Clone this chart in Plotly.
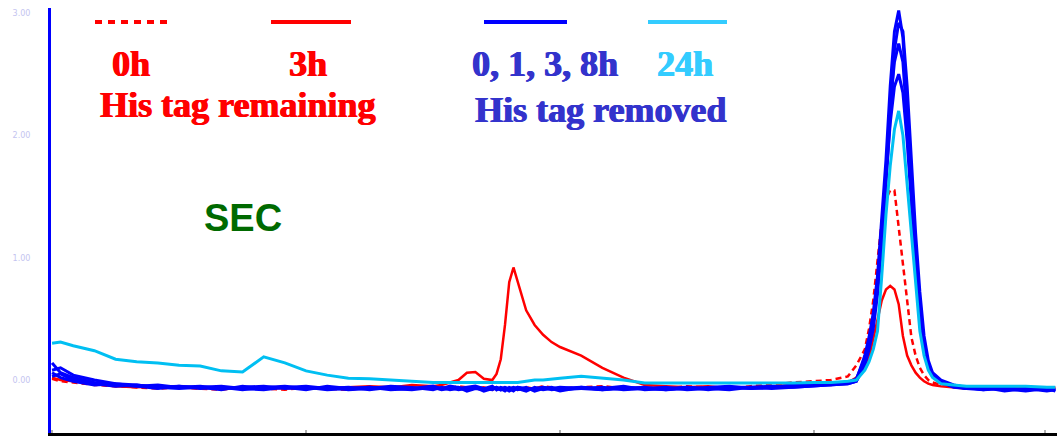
import plotly.graph_objects as go

# Elution position (mL) shared by every trace
elution_ml = [
    0, 0.2, 0.5, 1, 1.5, 2, 2.5, 3, 3.5, 4,
    4.5, 5, 5.5, 6, 6.5, 7, 7.5, 8, 8.5, 9,
    9.2, 9.4, 9.6, 9.8, 10.0, 10.2, 10.4, 10.5, 10.6, 10.7,
    10.8, 10.9, 11.0, 11.2, 11.4, 11.6, 11.8, 12.0, 12.5, 13,
    13.5, 14, 14.5, 15, 15.5, 16, 16.5, 17, 17.5, 18,
    18.4, 18.8, 19.0, 19.2, 19.3, 19.4, 19.5, 19.6, 19.7, 19.8,
    19.9, 20.0, 20.1, 20.2, 20.3, 20.4, 20.5, 20.6, 20.7, 20.8,
    21.0, 21.3, 21.6, 22.0, 22.5, 23.0, 23.5, 23.7,
]

# His tag remaining
tag_0h = [
    0.01, -0.01, -0.02, -0.04, -0.05, -0.06, -0.07, -0.06, -0.07, -0.08,
    -0.06, -0.07, -0.08, -0.06, -0.07, -0.08, -0.06, -0.07, -0.06, -0.07,
    -0.06, -0.07, -0.05, -0.06, -0.07, -0.06, -0.08, -0.06, -0.07, -0.06,
    -0.07, -0.06, -0.08, -0.06, -0.07, -0.05, -0.06, -0.07, -0.06, -0.05,
    -0.07, -0.06, -0.07, -0.05, -0.06, -0.07, -0.05, -0.04, -0.02, -0.01,
    0.0, 0.03, 0.12, 0.25, 0.42, 0.65, 1.0, 1.3, 1.48, 1.55,
    1.55, 1.25, 0.9, 0.6, 0.35, 0.2, 0.1, 0.04, 0.0, -0.02,
    -0.04, -0.05, -0.06, -0.06, -0.07, -0.06, -0.06, -0.07,
]
tag_3h = [
    0.02, 0.0, -0.01, -0.03, -0.05, -0.06, -0.05, -0.06, -0.07, -0.06,
    -0.07, -0.06, -0.07, -0.06, -0.07, -0.06, -0.05, -0.06, -0.04, -0.05,
    -0.04, -0.02, 0.0, 0.06, 0.065, 0.01, 0.0, 0.05, 0.17, 0.45,
    0.80, 0.92, 0.80, 0.57, 0.45, 0.37, 0.31, 0.27, 0.20, 0.10,
    0.02, -0.04, -0.05, -0.06, -0.05, -0.07, -0.06, -0.05, -0.04, -0.03,
    -0.04, -0.02, 0.02, 0.10, 0.18, 0.33, 0.50, 0.65, 0.74, 0.77,
    0.74, 0.62, 0.36, 0.20, 0.12, 0.06, 0.02, -0.01, -0.03, -0.04,
    -0.05, -0.06, -0.07, -0.06, -0.06, -0.07, -0.06, -0.06,
]

# His tag removed: 0, 1, 3, 8 h
cut_0h = [
    0.14, 0.06, 0.02, -0.02, -0.04, -0.05, -0.04, -0.06, -0.05, -0.07,
    -0.06, -0.05, -0.07, -0.06, -0.08, -0.07, -0.06, -0.08, -0.07, -0.06,
    -0.08, -0.07, -0.06, -0.09, -0.07, -0.08, -0.06, -0.07, -0.08, -0.06,
    -0.07, -0.09, -0.06, -0.08, -0.07, -0.06, -0.08, -0.07, -0.06, -0.08,
    -0.07, -0.06, -0.08, -0.07, -0.06, -0.05, -0.07, -0.06, -0.05, -0.04,
    -0.03, -0.02, 0.0, 0.2, 0.35, 0.55, 0.85, 1.3, 1.8, 2.4,
    2.85, 3.02, 2.8, 2.2, 1.55, 1.0, 0.6, 0.28, 0.12, 0.04,
    -0.02, -0.05, -0.07, -0.06, -0.08, -0.07, -0.09, -0.08,
]
cut_1h = [
    0.08, 0.1, 0.04, 0.0, -0.03, -0.04, -0.06, -0.05, -0.07, -0.06,
    -0.08, -0.06, -0.05, -0.07, -0.06, -0.08, -0.07, -0.05, -0.06, -0.08,
    -0.06, -0.08, -0.07, -0.06, -0.05, -0.07, -0.08, -0.06, -0.07, -0.09,
    -0.06, -0.07, -0.08, -0.06, -0.09, -0.07, -0.06, -0.08, -0.07, -0.06,
    -0.08, -0.07, -0.06, -0.08, -0.07, -0.06, -0.06, -0.05, -0.06, -0.05,
    -0.04, -0.03, -0.01, 0.12, 0.25, 0.42, 0.70, 1.1, 1.6, 2.2,
    2.7, 2.92, 2.85, 2.4, 1.8, 1.2, 0.72, 0.36, 0.16, 0.06,
    0.0, -0.04, -0.06, -0.08, -0.07, -0.09, -0.07, -0.08,
]
cut_3h = [
    0.03, 0.05, 0.0, -0.03, -0.05, -0.04, -0.06, -0.07, -0.06, -0.05,
    -0.07, -0.08, -0.06, -0.05, -0.07, -0.06, -0.08, -0.06, -0.07, -0.05,
    -0.07, -0.06, -0.08, -0.07, -0.06, -0.09, -0.07, -0.06, -0.08, -0.07,
    -0.08, -0.06, -0.07, -0.09, -0.06, -0.08, -0.07, -0.06, -0.07, -0.08,
    -0.06, -0.07, -0.08, -0.06, -0.07, -0.08, -0.06, -0.07, -0.06, -0.05,
    -0.04, -0.03, -0.01, 0.15, 0.28, 0.48, 0.78, 1.2, 1.7, 2.25,
    2.6, 2.75, 2.6, 2.1, 1.5, 1.0, 0.62, 0.3, 0.13, 0.05,
    -0.01, -0.05, -0.07, -0.06, -0.09, -0.07, -0.08, -0.08,
]
cut_8h = [
    0.06, 0.02, -0.01, -0.04, -0.03, -0.05, -0.07, -0.05, -0.06, -0.08,
    -0.05, -0.07, -0.06, -0.08, -0.05, -0.07, -0.06, -0.07, -0.08, -0.06,
    -0.07, -0.05, -0.06, -0.08, -0.06, -0.07, -0.05, -0.08, -0.06, -0.07,
    -0.09, -0.07, -0.06, -0.07, -0.08, -0.06, -0.07, -0.09, -0.06, -0.07,
    -0.05, -0.08, -0.07, -0.06, -0.08, -0.06, -0.07, -0.06, -0.04, -0.04,
    -0.03, -0.02, 0.01, 0.18, 0.32, 0.5, 0.8, 1.2, 1.65, 2.1,
    2.4, 2.5, 2.35, 1.95, 1.45, 0.95, 0.55, 0.26, 0.1, 0.03,
    -0.02, -0.06, -0.07, -0.08, -0.06, -0.08, -0.07, -0.09,
]

# His tag removed: 24 h
cut_24h = [
    0.30, 0.31, 0.28, 0.24, 0.17, 0.15, 0.14, 0.12, 0.115, 0.075,
    0.065, 0.19, 0.14, 0.075, 0.04, 0.015, 0.01, 0.0, -0.015, -0.02,
    -0.02, -0.02, -0.02, -0.02, -0.02, -0.02, -0.02, -0.02, -0.02, -0.02,
    -0.02, -0.02, -0.02, -0.01, 0.0, 0.0, 0.01, 0.015, 0.03, 0.015,
    0.0, -0.025, -0.025, -0.025, -0.03, -0.03, -0.03, -0.025, -0.025, -0.02,
    -0.02, -0.01, 0.0, 0.08, 0.15, 0.25, 0.40, 0.85, 1.35, 1.75,
    2.05, 2.2, 2.0, 1.6, 1.2, 0.75, 0.40, 0.2, 0.08, 0.02,
    -0.03, -0.04, -0.05, -0.05, -0.05, -0.05, -0.06, -0.06,
]

y_ticks = [0, 1, 2, 3]
y_tick_text = ["0.00", "1.00", "2.00", "3.00"]
x_ticks = [0, 6, 12, 18, 23.45]

RED = "#ff0000"
BLUE = "#0000ff"
CYAN = "#00bff2"

W, H = 1057, 436
M_L, M_R, M_T, M_B = 51, 0, 8, 3


def px(x):
    return (x - M_L) / (W - M_L - M_R)


def py(y):
    return (H - M_B - y) / (H - M_T - M_B)


fig = go.Figure()

fig.add_trace(go.Scatter(x=elution_ml, y=tag_0h, mode="lines",
                         line=dict(color=RED, width=2.5, dash="6px,4px")))
fig.add_trace(go.Scatter(x=elution_ml, y=tag_3h, mode="lines",
                         line=dict(color=RED, width=2.5)))
for series in (cut_8h, cut_3h, cut_1h, cut_0h):
    fig.add_trace(go.Scatter(x=elution_ml, y=series, mode="lines",
                             line=dict(color=BLUE, width=3)))
fig.add_trace(go.Scatter(x=elution_ml, y=cut_24h, mode="lines",
                         line=dict(color=CYAN, width=3)))

# legend swatches
swatches = [
    (95, 170, RED, "7px,6px"),
    (271, 351, RED, "solid"),
    (484, 567, BLUE, "solid"),
    (648, 727, "#33ccff", "solid"),
]
for x0, x1, col, dash in swatches:
    fig.add_shape(type="line", xref="paper", yref="paper",
                  x0=px(x0), x1=px(x1), y0=py(22), y1=py(22),
                  line=dict(color=col, width=4, dash=dash))

serif = "Liberation Serif"
labels = [
    ("0h", 110, 64, RED),
    ("3h", 287, 64, RED),
    ("0, 1, 3, 8h", 470, 64, "#3333cc"),
    ("24h", 655, 64, "#33ccff"),
    ("His tag remaining", 98, 105, RED),
    ("His tag removed", 473, 110, "#3333cc"),
]
for text, x, y, col in labels:
    # a thin same-colour shadow gives the heavy poster-style strokes
    heavy = f"0.8px 0px 0px {col}, -0.4px 0px 0px {col}"
    fig.add_annotation(text=f"<b>{text}</b>", xref="paper", yref="paper",
                       x=px(x), y=py(y), xanchor="left", yanchor="middle",
                       showarrow=False,
                       font=dict(family=serif, size=36, color=col, shadow=heavy))

fig.add_annotation(text="<b>SEC</b>", xref="paper", yref="paper",
                   x=px(202), y=py(218), xanchor="left", yanchor="middle",
                   showarrow=False,
                   font=dict(family="Liberation Sans", size=38, color="#006a00"))

fig.update_layout(
    width=W, height=H,
    margin=dict(l=M_L, r=M_R, t=M_T, b=M_B, pad=0),
    paper_bgcolor="white", plot_bgcolor="white",
    showlegend=False,
    xaxis=dict(range=[-0.025, 23.74], showgrid=False, zeroline=False,
               showline=True, linecolor="black", linewidth=3,
               tickvals=x_ticks, ticks="inside", ticklen=3, tickwidth=2,
               tickcolor="#b0b0b0", showticklabels=False),
    yaxis=dict(range=[-0.433, 3.041], showgrid=False, zeroline=False,
               showline=True, linecolor=BLUE, linewidth=3,
               tickvals=y_ticks, ticktext=y_tick_text, ticks="",
               ticklabelstandoff=16,
               tickfont=dict(size=8, color="#c4c4f0", family="DejaVu Sans")),
)

fig.write_html("out.html")
